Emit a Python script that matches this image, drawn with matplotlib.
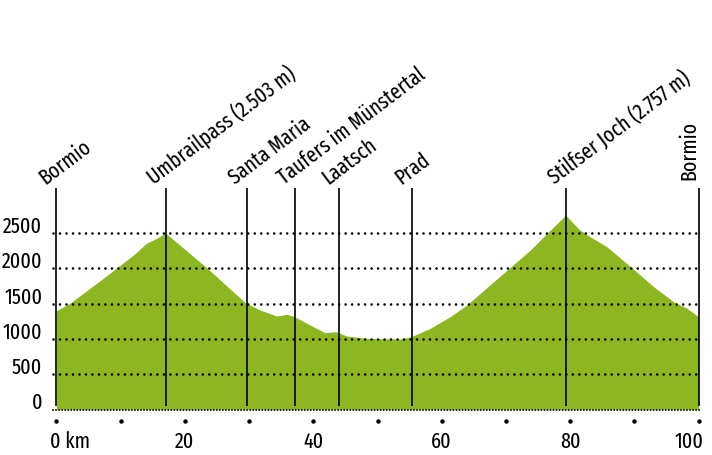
import os
import numpy as np
import matplotlib.pyplot as plt
from matplotlib import font_manager as fm

# elevation profile (km, m)
km = [0, 2.1, 5.2, 7.3, 9.4, 12.0, 14.0, 15.6, 17.0, 19.8, 23.4, 25.5, 27.5,
      29.4, 31.7, 34.3, 35.9, 37.1, 39.5, 41.8, 43.6, 45.2, 48.3, 53.5, 55.1,
      58.2, 61.3, 63.9, 67.5, 70.6, 73.8, 76.4, 79.3, 81.5, 83.1, 85.7, 89.6,
      93.0, 96.1, 98.2, 100]
elev = [1400, 1506, 1719, 1861, 2011, 2192, 2358, 2429, 2503, 2287, 2011, 1837,
        1671, 1514, 1410, 1325, 1349, 1315, 1197, 1088, 1102, 1041, 1008, 998,
        1025, 1150, 1315, 1481, 1766, 2011, 2263, 2500, 2757, 2547, 2452, 2310,
        2011, 1741, 1528, 1435, 1315]

# waypoints
places = ['Bormio', 'Umbrailpass (2.503 m)', 'Santa Maria', 'Taufers im Münstertal',
          'Laatsch', 'Prad', 'Stilfser Joch (2.757 m)', 'Bormio']
place_km = [0, 17.0, 29.6, 37.1, 44.0, 55.4, 79.4, 100]

y_ticks = [0, 500, 1000, 1500, 2000, 2500]
x_ticks = [0, 20, 40, 60, 80, 100]
x_tick_labels = ['0 km', '20', '40', '60', '80', '100']
x_minor = [0, 10, 20, 30, 40, 50, 60, 70, 80, 90, 100]

green = '#8db720'

# the original uses a very narrow face: take the narrowest regular one installed
fprop = None
files = [f.fname for f in fm.fontManager.ttflist]
for key in ['ExtraCondensed.ttf', 'ExtraCondensed-Regular.ttf', 'Condensed.ttf',
            'Condensed-Regular.ttf', 'Narrow-Regular.ttf', 'Narrow.ttf']:
    hits = sorted(p for p in files if os.path.basename(p).endswith(key)
                  and 'Sans' in os.path.basename(p) and 'Mono' not in p)
    if hits:
        fprop = fm.FontProperties(fname=hits[0])
        break
if fprop is None:
    fprop = fm.FontProperties(family='DejaVu Sans')

fig = plt.figure(figsize=(7.12, 4.55), dpi=100)
ax = fig.add_axes([50 / 712, 40 / 455, 655 / 712, 235 / 455])
ax.set_xlim(-1.01, 101.0)
ax.set_ylim(-81, 3257)
ax.axis('off')
renderer = fig.canvas.get_renderer()


def size_for(s, width_px):
    t = fig.text(0, 0, s, fontproperties=fprop, fontsize=10)
    w = t.get_window_extent(renderer).width
    t.remove()
    return 10 * width_px / w


num_fs = min(size_for('2500', 39), 21)
lab_fs = min(size_for('Umbrailpass (2.503 m)', 180), 21)


def txt(**kw):
    p = fprop.copy()
    p.set_size(kw.pop('fs'))
    kw['fontproperties'] = p
    return kw


# profile
ax.fill_between(km, 0, elev, color=green, lw=0, zorder=1)

# dotted grid
for y in y_ticks[1:]:
    ax.plot([-0.6, 100.6], [y, y], color='black', lw=1.9,
            linestyle=(0, (0.01, 2.45)), dash_capstyle='round', zorder=3, clip_on=False)
    ax.text(-2.2, y, f'{y}', ha='right', va='baseline', **txt(fs=num_fs))
ax.plot([-0.6, 100.6], [-10, -10], color='black', lw=1.4,
        linestyle=(0, (0.01, 1.55)), dash_capstyle='round', zorder=3, clip_on=False)
ax.text(-2.2, 0, '0', ha='right', va='baseline', **txt(fs=num_fs))

# km dots and labels
ax.plot(x_minor, [-165] * len(x_minor), 'o', color='black', ms=2.2, clip_on=False)
for x, lab in zip(x_ticks, x_tick_labels):
    if x == 0:
        ax.text(x - 1.0, -550, lab, ha='left', va='baseline', **txt(fs=num_fs))
    elif x == 100:
        ax.text(x + 0.8, -550, lab, ha='right', va='baseline', **txt(fs=num_fs))
    else:
        ax.text(x, -550, lab, ha='center', va='baseline', **txt(fs=num_fs))

# waypoint lines and names
top = 3143
ax.vlines(place_km, 50, top, color='black', lw=1.2, zorder=2, clip_on=False)
for i, (name, x) in enumerate(zip(places, place_km)):
    if i == len(places) - 1:
        ax.annotate(name, (x, top), xytext=(-2.5, 6), textcoords='offset points',
                    rotation=90, rotation_mode='anchor', ha='left', va='baseline',
                    annotation_clip=False, **txt(fs=lab_fs))
    else:
        ax.annotate(name, (x, top), xytext=(-8, 2), textcoords='offset points',
                    rotation=37, rotation_mode='anchor', ha='left', va='baseline',
                    annotation_clip=False, **txt(fs=lab_fs))

fig.savefig('out.png', dpi=100)
